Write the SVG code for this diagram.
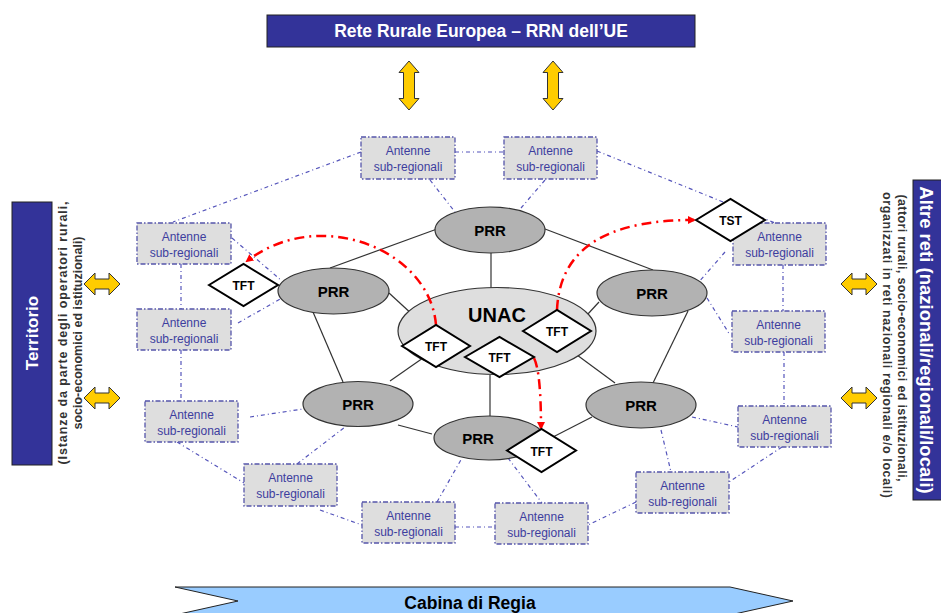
<svg xmlns="http://www.w3.org/2000/svg" width="941" height="613" viewBox="0 0 941 613">
<style>
.bar{fill:#333399;stroke:#222;stroke-width:1}
.bartxt{font-family:"Liberation Sans",Arial,sans-serif;font-weight:bold;fill:#fff}
.sub{font-family:"Liberation Sans",Arial,sans-serif;font-weight:bold;font-size:12.5px;fill:#333}
.yarr{fill:#ffcc00;stroke:#333;stroke-width:1}
.ant rect{fill:#dedede;stroke:#5555aa;stroke-width:1.3;stroke-dasharray:5,2,1.5,2}
.ant text{font-family:"Liberation Sans",Arial,sans-serif;font-size:12px;fill:#3d3d9e;text-anchor:middle}
.prr ellipse{fill:#b2b2b2;stroke:#333;stroke-width:1.2}
.lbl{font-family:"Liberation Sans",Arial,sans-serif;font-weight:bold;fill:#000;text-anchor:middle}
.dia polygon{fill:#fff;stroke:#000;stroke-width:2}
.solid line{stroke:#333;stroke-width:1.2}
.dd line{stroke:#5555bb;stroke-width:1.2;stroke-dasharray:4,3,1,3}
.red{fill:none;stroke:#ff0000;stroke-width:2.5;stroke-dasharray:10,5,2,5}
</style>
<defs>
<path id="va" d="M0,-24.5 L10,-13 L5.5,-13 L5.5,13 L10,13 L0,24.5 L-10,13 L-5.5,13 L-5.5,-13 L-10,-13 Z"/>
<path id="ha" d="M-18,0 L-7,-11 L-7,-5 L7,-5 L7,-11 L18,0 L7,11 L7,5 L-7,5 L-7,11 Z"/>
<marker id="rh" markerWidth="8" markerHeight="8" refX="6" refY="4" orient="auto" markerUnits="userSpaceOnUse">
<path d="M0,0 L8,4 L0,8 Z" fill="#ff0000"/>
</marker>
</defs>

<g id="top-bar">
<rect class="bar" x="267" y="15" width="428" height="32"/>
<text class="bartxt" x="481" y="37" font-size="17.5" text-anchor="middle">Rete Rurale Europea – RRN dell’UE</text>
</g>
<g id="top-arrows">
<use href="#va" class="yarr" x="409" y="85.5"/>
<use href="#va" class="yarr" x="553" y="85.5"/>
</g>

<g id="territorio">
<rect class="bar" x="12" y="202" width="40" height="263"/>
<text class="bartxt" font-size="17" text-anchor="middle" transform="translate(38,333) rotate(-90)">Territorio</text>
<text class="sub" text-anchor="middle" textLength="263" lengthAdjust="spacing" transform="translate(67,333) rotate(-90)">(Istanze da parte degli operatori rurali,</text>
<text class="sub" text-anchor="middle" transform="translate(82,333) rotate(-90)">socio-economici ed istituzionali)</text>
<use href="#ha" class="yarr" x="102" y="284"/>
<use href="#ha" class="yarr" x="102" y="398"/>
</g>

<g id="altre-reti">
<rect class="bar" x="913" y="180" width="40" height="320"/>
<text class="bartxt" font-size="18.5" text-anchor="middle" transform="translate(920,340) rotate(90)">Altre reti (nazionali/regionali/locali)</text>
<text class="sub" text-anchor="middle" textLength="287" lengthAdjust="spacing" transform="translate(898,338) rotate(90)">(attori rurali, socio-economici ed istituzionali,</text>
<text class="sub" text-anchor="middle" textLength="306" lengthAdjust="spacing" transform="translate(883,345) rotate(90)">organizzati in reti nazionali regionali e/o locali)</text>
<use href="#ha" class="yarr" x="859" y="284"/>
<use href="#ha" class="yarr" x="859" y="398"/>
</g>

<g id="cabina">
<path d="M175,587 L730,587 L793,601 L730,615 L175,615 L238,601 Z" fill="#99ccff" stroke="#222" stroke-width="1"/>
<text class="lbl" x="470" y="609" font-size="17.5">Cabina di Regia</text>
</g>

<g id="connectors">
<g class="solid">
<line x1="491" y1="253" x2="491" y2="291"/>
<line x1="330" y1="268" x2="437" y2="229"/>
<line x1="545" y1="229" x2="653" y2="270"/>
<line x1="389" y1="293" x2="414" y2="316"/>
<line x1="599" y1="302" x2="587" y2="315"/>
<line x1="313" y1="312" x2="343" y2="382"/>
<line x1="688" y1="311" x2="653" y2="383"/>
<line x1="390" y1="381" x2="423" y2="358"/>
<line x1="577" y1="355" x2="615" y2="383"/>
<line x1="490" y1="375" x2="490" y2="416"/>
<line x1="398" y1="425" x2="432" y2="434"/>
<line x1="592" y1="417" x2="553" y2="437"/>
</g>
<g class="dd">
<line x1="361" y1="152" x2="173" y2="222"/>
<line x1="455" y1="152" x2="504" y2="152"/>
<line x1="430" y1="180" x2="455" y2="212"/>
<line x1="545" y1="180" x2="521" y2="208"/>
<line x1="597" y1="151" x2="775" y2="223"/>
<line x1="725" y1="252" x2="698" y2="283"/>
<line x1="783" y1="265" x2="783" y2="311"/>
<line x1="707" y1="298" x2="730" y2="335"/>
<line x1="784" y1="352" x2="784" y2="406"/>
<line x1="692" y1="417" x2="738" y2="427"/>
<line x1="782" y1="447" x2="729" y2="482"/>
<line x1="661" y1="430" x2="671" y2="472"/>
<line x1="636" y1="502" x2="588" y2="525"/>
<line x1="508" y1="458" x2="542" y2="503"/>
<line x1="455" y1="527" x2="495" y2="527"/>
<line x1="437" y1="502" x2="462" y2="458"/>
<line x1="320" y1="510" x2="362" y2="525"/>
<line x1="297" y1="464" x2="345" y2="427"/>
<line x1="177" y1="442" x2="244" y2="483"/>
<line x1="250" y1="417" x2="303" y2="409"/>
<line x1="181" y1="350" x2="181" y2="401"/>
<line x1="238" y1="323" x2="282" y2="298"/>
<line x1="232" y1="238" x2="282" y2="281"/>
<line x1="181" y1="264" x2="181" y2="309"/>
</g>
</g>

<g id="ant-1" class="ant"><rect x="361" y="137" width="94" height="42"/><text x="408" y="155">Antenne</text><text x="408" y="171">sub-regionali</text></g>
<g id="ant-2" class="ant"><rect x="504" y="137" width="93" height="42"/><text x="550.5" y="155">Antenne</text><text x="550.5" y="171">sub-regionali</text></g>
<g id="ant-3" class="ant"><rect x="137" y="223" width="94" height="41"/><text x="184" y="241">Antenne</text><text x="184" y="257">sub-regionali</text></g>
<g id="ant-4" class="ant"><rect x="137" y="309" width="94" height="41"/><text x="184" y="327">Antenne</text><text x="184" y="343">sub-regionali</text></g>
<g id="ant-5" class="ant"><rect x="733" y="223" width="93" height="42"/><text x="779.5" y="241">Antenne</text><text x="779.5" y="257">sub-regionali</text></g>
<g id="ant-6" class="ant"><rect x="732" y="311" width="93" height="41"/><text x="778.5" y="329">Antenne</text><text x="778.5" y="345">sub-regionali</text></g>
<g id="ant-7" class="ant"><rect x="145" y="401" width="93" height="41"/><text x="191.5" y="419">Antenne</text><text x="191.5" y="435">sub-regionali</text></g>
<g id="ant-8" class="ant"><rect x="244" y="464" width="93" height="42"/><text x="290.5" y="482">Antenne</text><text x="290.5" y="498">sub-regionali</text></g>
<g id="ant-9" class="ant"><rect x="362" y="502" width="93" height="41"/><text x="408.5" y="520">Antenne</text><text x="408.5" y="536">sub-regionali</text></g>
<g id="ant-10" class="ant"><rect x="495" y="503" width="93" height="41"/><text x="541.5" y="521">Antenne</text><text x="541.5" y="537">sub-regionali</text></g>
<g id="ant-11" class="ant"><rect x="636" y="472" width="93" height="41"/><text x="682.5" y="490">Antenne</text><text x="682.5" y="506">sub-regionali</text></g>
<g id="ant-12" class="ant"><rect x="738" y="406" width="93" height="41"/><text x="784.5" y="424">Antenne</text><text x="784.5" y="440">sub-regionali</text></g>

<g id="unac"><ellipse cx="497" cy="331" rx="99" ry="43.5" fill="#dedede" stroke="#333" stroke-width="1.2"/><text class="lbl" x="497" y="322" font-size="20">UNAC</text></g>
<g id="prr-top" class="prr"><ellipse cx="490" cy="230" rx="55" ry="23"/><text class="lbl" x="490" y="236" font-size="15">PRR</text></g>
<g id="prr-left" class="prr"><ellipse cx="333.5" cy="291" rx="55.5" ry="23"/><text class="lbl" x="333.5" y="297" font-size="15">PRR</text></g>
<g id="prr-right" class="prr"><ellipse cx="652" cy="293" rx="55" ry="23"/><text class="lbl" x="652" y="299" font-size="15">PRR</text></g>
<g id="prr-left-bottom" class="prr"><ellipse cx="358" cy="404" rx="55" ry="22.5"/><text class="lbl" x="358" y="410" font-size="15">PRR</text></g>
<g id="prr-right-bottom" class="prr"><ellipse cx="641" cy="405" rx="55" ry="23"/><text class="lbl" x="641" y="411" font-size="15">PRR</text></g>
<g id="prr-bottom" class="prr"><ellipse cx="489" cy="438" rx="55" ry="22"/><text class="lbl" x="478" y="444" font-size="15">PRR</text></g>

<g id="red-arrows">
<path class="red" d="M436,325 C430,250 320,205 247,261" marker-end="url(#rh)"/>
<path class="red" d="M557,310 C560,240 620,220 694,220" marker-end="url(#rh)"/>
<path class="red" d="M534,358 Q541,372 541,428" marker-end="url(#rh)"/>
</g>

<g id="tft-left" class="dia"><polygon points="209,285 243.5,264 278,285 243.5,306"/><text class="lbl" x="243.5" y="290" font-size="12">TFT</text></g>
<g id="tft-unac-left" class="dia"><polygon points="402,346 436,325 470,346 436,367"/><text class="lbl" x="436" y="351" font-size="12">TFT</text></g>
<g id="tft-unac-mid" class="dia"><polygon points="465,357 499.5,337 534,357 499.5,377"/><text class="lbl" x="499.5" y="362" font-size="12">TFT</text></g>
<g id="tft-unac-right" class="dia"><polygon points="523,331 557,310 591,331 557,352"/><text class="lbl" x="557" y="336" font-size="12">TFT</text></g>
<g id="tft-bottom" class="dia"><polygon points="507,450.5 541.5,429 576,450.5 541.5,472"/><text class="lbl" x="541.5" y="455.5" font-size="12">TFT</text></g>
<g id="tst" class="dia"><polygon points="696,220 730.5,199 765,220 730.5,241"/><text class="lbl" x="730.5" y="225" font-size="12">TST</text></g>
</svg>
